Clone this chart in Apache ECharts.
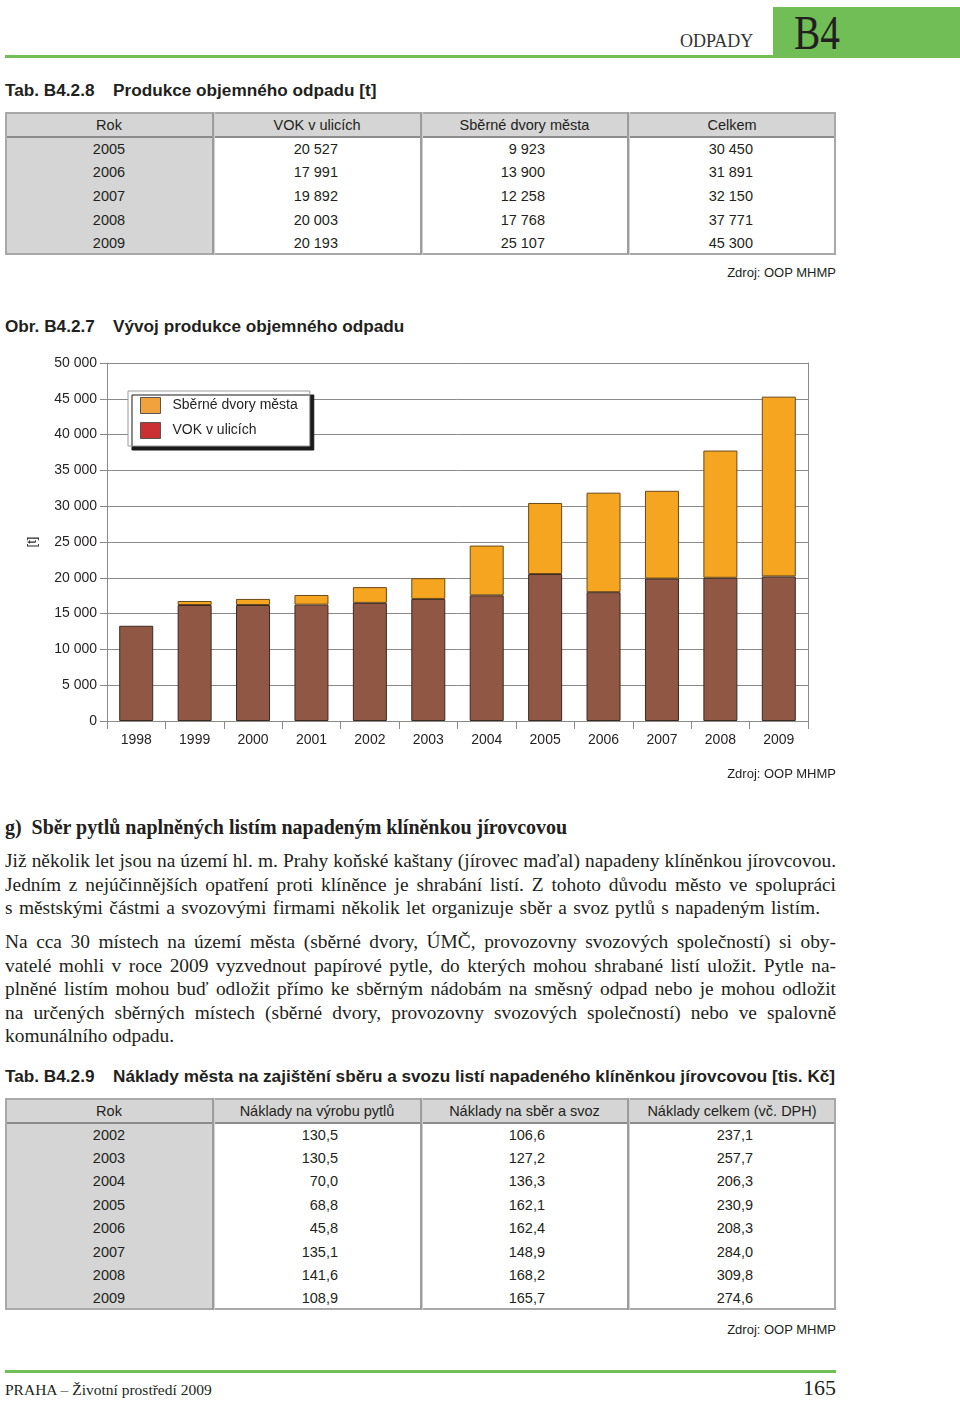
<!DOCTYPE html>
<html><head><meta charset="utf-8">
<script src="https://cdn.jsdelivr.net/npm/echarts@6/dist/echarts.min.js"></script>
<style>
html,body{margin:0;padding:0}
body{width:960px;height:1402px;position:relative;background:#fff;font-family:"Liberation Sans",Arial,sans-serif;color:#231f20;overflow:hidden}
.abs{position:absolute;white-space:nowrap}
.serif{font-family:"Liberation Serif","Times New Roman",serif}
.ttl{font-weight:bold;font-size:17.2px;line-height:17px}
.src{font-size:13px;line-height:13px;right:124px}
.cell{position:absolute;display:flex;align-items:center;font-size:14.5px;box-sizing:border-box}
.para{position:absolute;left:5px;white-space:nowrap;font-family:"Liberation Serif","Times New Roman",serif;font-size:19.4px;line-height:20px;color:#231f20}
</style></head><body>

<!-- header -->
<div class="abs" style="left:773px;top:7px;width:187px;height:50px;background:#70be55"></div>
<div class="abs" style="left:5px;top:55px;width:955px;height:3px;background:#70be55"></div>
<div class="abs serif" style="left:680px;top:32px;font-size:18px;line-height:18px;color:#333">ODPADY</div>
<div class="abs serif" style="left:794px;top:9px;font-size:48px;line-height:48px;color:#231f20;transform:scaleX(0.82);transform-origin:left top">B4</div>

<div class="abs ttl" style="left:5px;top:82px">Tab. B4.2.8</div>
<div class="abs ttl" style="left:113px;top:82px">Produkce objemného odpadu [t]</div>
<div id="t1"></div>
<div class="abs src" style="top:266px">Zdroj: OOP MHMP</div>

<div class="abs ttl" style="left:5px;top:318px">Obr. B4.2.7</div>
<div class="abs ttl" style="left:113px;top:318px">Vývoj produkce objemného odpadu</div>
<div id="chart" style="position:absolute;left:0;top:340px;width:960px;height:430px"></div>
<div class="abs src" style="top:767px">Zdroj: OOP MHMP</div>

<div id="text"></div>

<div class="abs ttl" style="left:5px;top:1068px">Tab. B4.2.9</div>
<div class="abs ttl" style="left:113px;top:1068px">Náklady města na zajištění sběru a svozu listí napadeného klíněnkou jírovcovou [tis. Kč]</div>
<div id="t2"></div>
<div class="abs src" style="top:1323px">Zdroj: OOP MHMP</div>

<!-- footer -->
<div class="abs" style="left:5px;top:1370px;width:831px;height:3px;background:#70be55"></div>
<div class="abs serif" style="left:5px;top:1382px;font-size:15.5px;line-height:16px;color:#231f20">PRAHA – Životní prostředí 2009</div>
<div class="abs serif" style="right:124px;top:1377px;font-size:22px;line-height:22px;color:#231f20">165</div>

<script>
// ---------- data ----------
const chartYears = ['1998','1999','2000','2001','2002','2003','2004','2005','2006','2007','2008','2009'];
const vokValues = [13300, 16200, 16200, 16250, 16500, 17050, 17550, 20527, 17991, 19892, 20003, 20193];
const sdValues  = [null, 560, 850, 1350, 2200, 2900, 6950, 9923, 13900, 12258, 17768, 25107];
const yMax = 50000;
const yStep = 5000;
const seriesNames = ['VOK v ulicích', 'Sběrné dvory města'];

const t1Header = ['Rok', 'VOK v ulicích', 'Sběrné dvory města', 'Celkem'];
const t1Years  = ['2005', '2006', '2007', '2008', '2009'];
const t1Vok    = ['20 527', '17 991', '19 892', '20 003', '20 193'];
const t1Sd     = ['9 923', '13 900', '12 258', '17 768', '25 107'];
const t1Total  = ['30 450', '31 891', '32 150', '37 771', '45 300'];

const t2Header = ['Rok', 'Náklady na výrobu pytlů', 'Náklady na sběr a svoz', 'Náklady celkem (vč. DPH)'];
const t2Years  = ['2002', '2003', '2004', '2005', '2006', '2007', '2008', '2009'];
const t2Bags   = ['130,5', '130,5', '70,0', '68,8', '45,8', '135,1', '141,6', '108,9'];
const t2Collect= ['106,6', '127,2', '136,3', '162,1', '162,4', '148,9', '168,2', '165,7'];
const t2Total  = ['237,1', '257,7', '206,3', '230,9', '208,3', '284,0', '309,8', '274,6'];

const heading = 'g)\u00a0 Sběr pytlů naplněných listím napadeným klíněnkou jírovcovou';
const paraLines = [
  'Již několik let jsou na území hl. m. Prahy koňské kaštany (jírovec maďal) napadeny klíněnkou jírovcovou.',
  'Jedním z nejúčinnějších opatření proti klíněnce je shrabání listí. Z tohoto důvodu město ve spolupráci',
  's městskými částmi a svozovými firmami několik let organizuje sběr a svoz pytlů s napadeným listím.',
  'Na cca 30 místech na území města (sběrné dvory, ÚMČ, provozovny svozových společností) si oby-',
  'vatelé mohli v roce 2009 vyzvednout papírové pytle, do kterých mohou shrabané listí uložit. Pytle na-',
  'plněné listím mohou buď odložit přímo ke sběrným nádobám na směsný odpad nebo je mohou odložit',
  'na určených sběrných místech (sběrné dvory, provozovny svozových společností) nebo ve spalovně',
  'komunálního odpadu.'
];

// ---------- tables ----------
function buildTable(id, top, headerH, rowH, header, cols) {
  const host = document.getElementById(id);
  const xs = [5, 213, 421, 628, 836];
  const nRows = cols[0].length;
  const bottom = top + headerH + rowH * nRows;
  let h = '';
  h += `<div class="abs" style="left:${xs[0]}px;top:${top}px;width:${xs[4]-xs[0]}px;height:${headerH}px;background:#d5d5d5"></div>`;
  h += `<div class="abs" style="left:${xs[0]}px;top:${top+headerH}px;width:${xs[1]-xs[0]}px;height:${bottom-top-headerH}px;background:#d5d5d5"></div>`;
  h += `<div class="abs" style="left:${xs[0]}px;top:${top}px;width:${xs[4]-xs[0]-4}px;height:${bottom-top-4}px;border:2px solid #a8a8a8"></div>`;
  h += `<div class="abs" style="left:${xs[0]+2}px;top:${top+headerH-1}px;width:${xs[4]-xs[0]-4}px;height:2px;background:#8c8c8c"></div>`;
  for (let c = 1; c < 4; c++) {
    h += `<div class="abs" style="left:${xs[c]-1}px;top:${top}px;width:2px;height:${bottom-top}px;background:#9c9c9c"></div>`;
    h += `<div class="abs" style="left:${xs[c]+1}px;top:${top}px;width:1px;height:${bottom-top}px;background:#cfcfcf"></div>`;
  }
  for (let c = 0; c < 4; c++) {
    h += `<div class="cell" style="left:${xs[c]}px;top:${top}px;width:${xs[c+1]-xs[c]}px;height:${headerH}px;justify-content:center">${header[c]}</div>`;
  }
  for (let r = 0; r < nRows; r++) {
    const y = top + headerH + rowH * r;
    for (let c = 0; c < 4; c++) {
      const just = c === 0 ? 'justify-content:center' : 'justify-content:flex-end;padding-right:83px';
      h += `<div class="cell" style="left:${xs[c]}px;top:${y}px;width:${xs[c+1]-xs[c]}px;height:${rowH}px;${just}">${cols[c][r]}</div>`;
    }
  }
  host.innerHTML = h;
}
buildTable('t1', 112, 25, 23.6, t1Header, [t1Years, t1Vok, t1Sd, t1Total]);
buildTable('t2', 1098, 25, 23.4, t2Header, [t2Years, t2Bags, t2Collect, t2Total]);

// ---------- text ----------
(function () {
  const host = document.getElementById('text');
  const lineTops = [851, 875, 898, 932, 956, 979, 1003, 1026];
  const targets = [831, 831, 815, 831, 831, 831, 831, 0];
  let h = `<div class="para" id="hd" style="top:817px;font-weight:bold;font-size:20px">${heading}</div>`;
  paraLines.forEach((t, i) => {
    h += `<div class="para" id="pl${i}" style="top:${lineTops[i]}px">${t}</div>`;
  });
  host.innerHTML = h;
  function fit(el, target) {
    if (!target) return;
    const w = el.getBoundingClientRect().width;
    const diff = target - w;
    const spaces = (el.textContent.match(/ /g) || []).length;
    if (diff >= 0 && spaces) {
      el.style.wordSpacing = (diff / spaces) + 'px';
    } else {
      el.style.letterSpacing = (diff / el.textContent.length) + 'px';
    }
  }
  fit(document.getElementById('hd'), 562);
  paraLines.forEach((t, i) => fit(document.getElementById('pl' + i), targets[i]));
})();

// ---------- chart ----------
const fmt = v => String(v).replace(/\B(?=(\d{3})+(?!\d))/g, '\u00a0');
const axisGray = '#8a8a8a';
const chart = echarts.init(document.getElementById('chart'), null, { renderer: 'canvas' });
chart.setOption({
  animation: false,
  textStyle: { fontFamily: '"Liberation Sans", Arial, sans-serif' },
  grid: { left: 107, right: 152, top: 23, bottom: 49, containLabel: false, outerBoundsMode: 'none' },
  legend: {
    orient: 'vertical', left: 128, top: 51,
    data: [
      { name: seriesNames[1], itemStyle: { color: '#f2a23c', borderColor: '#555', borderWidth: 1 } },
      { name: seriesNames[0], itemStyle: { color: '#cc3131', borderColor: '#555', borderWidth: 1 } }
    ],
    icon: 'rect', itemWidth: 20, itemHeight: 16, itemGap: 8,
    padding: [6, 12, 7, 12],
    backgroundColor: '#fff', borderColor: '#999', borderWidth: 1, borderRadius: 0,
    shadowColor: '#1a1a1a', shadowOffsetX: 4, shadowOffsetY: 4, shadowBlur: 0,
    selectedMode: false,
    textStyle: { fontSize: 14, color: '#231f20', padding: [0, 0, 0, 7] }
  },
  xAxis: {
    type: 'category', data: chartYears,
    axisLine: { show: true, lineStyle: { color: axisGray, width: 1 } },
    axisTick: { show: true, length: 8, alignWithLabel: false, lineStyle: { color: axisGray } },
    axisLabel: { fontSize: 14, color: '#231f20', margin: 12 },
    splitLine: { show: false }
  },
  yAxis: [{
    type: 'value', min: 0, max: yMax, interval: yStep,
    name: '[t]', nameLocation: 'middle', nameGap: 68, nameRotate: 90,
    nameTextStyle: { fontSize: 13, color: '#231f20' },
    axisLine: { show: true, lineStyle: { color: axisGray } },
    axisTick: { show: true, length: 7, lineStyle: { color: axisGray } },
    axisLabel: { fontSize: 14, color: '#231f20', margin: 10, formatter: fmt },
    splitLine: { show: true, lineStyle: { color: axisGray, width: 1, type: 'solid' } }
  }, {
    type: 'value', min: 0, max: yMax, interval: yStep, position: 'right',
    axisLine: { show: true, lineStyle: { color: axisGray } },
    axisTick: { show: false }, axisLabel: { show: false }, splitLine: { show: false }
  }],
  series: [
    { name: seriesNames[0], type: 'bar', stack: 'total', data: vokValues, barWidth: 34,
      itemStyle: { color: '#8f5744', borderColor: '#3b2a22', borderWidth: 1 } },
    { name: seriesNames[1], type: 'bar', stack: 'total', data: sdValues, barWidth: 34,
      itemStyle: { color: '#f6a520', borderColor: '#6a4a1c', borderWidth: 1 } }
  ]
});
</script>
</body></html>
